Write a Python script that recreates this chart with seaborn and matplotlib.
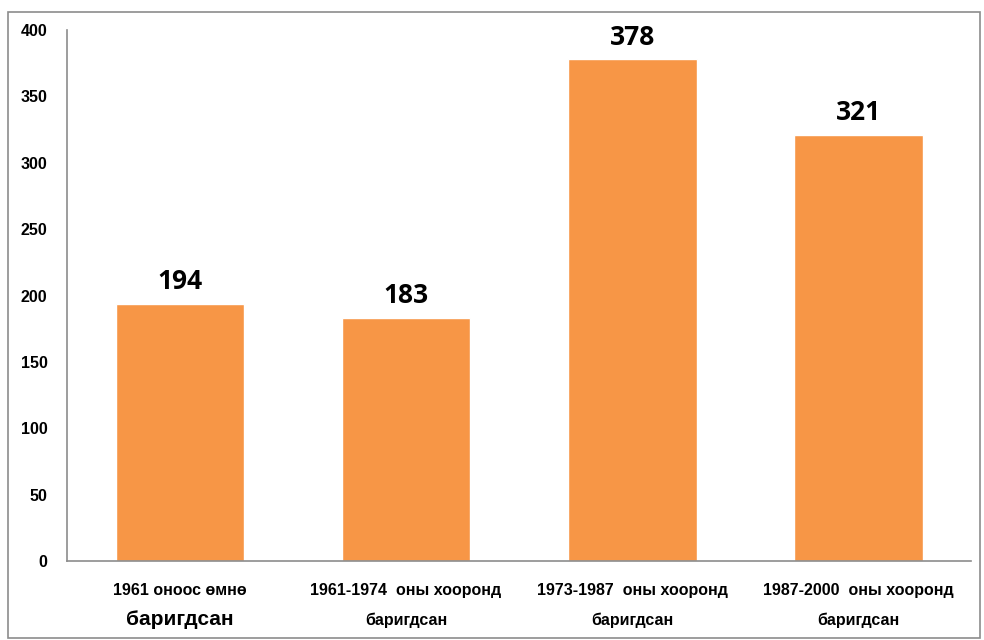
import matplotlib
matplotlib.use("Agg")
import matplotlib.pyplot as plt
import seaborn as sns
import pandas as pd
from matplotlib.patches import Rectangle

categories = ["1961 оноос өмнө баригдсан",
              "1961-1974  оны хооронд баригдсан",
              "1973-1987  оны хооронд баригдсан",
              "1987-2000  оны хооронд баригдсан"]
label_line1 = ["1961 оноос өмнө", "1961-1974  оны хооронд",
               "1973-1987  оны хооронд", "1987-2000  оны хооронд"]
label_line2 = ["баригдсан", "баригдсан", "баригдсан", "баригдсан"]
values = [194, 183, 378, 321]
yticks = [0, 50, 100, 150, 200, 250, 300, 350, 400]

sns.set_theme(style="white")
font = "Liberation Sans"

df = pd.DataFrame({"cat": categories, "val": values})

fig = plt.figure(figsize=(9.84, 6.4), dpi=100)
ax = fig.add_axes([0.068, 0.1234, 0.919, 0.8296])
sns.barplot(data=df, x="cat", y="val", color="#F79646", saturation=1,
            width=0.57, ax=ax)
ax.set_xlim(-0.5, 3.5)
ax.set_ylim(0, 400)
ax.set_yticks(yticks)
ax.set_yticklabels([str(t) for t in yticks], fontfamily=font,
                   fontweight="bold", fontsize=11.5, color="black")
ax.tick_params(axis="y", length=0, pad=14)
ax.tick_params(axis="x", length=0)
ax.set_xticks(range(len(categories)))
ax.set_xticklabels([""] * len(categories))
ax.set_xlabel("")
ax.set_ylabel("")
for s in ["top", "right"]:
    ax.spines[s].set_visible(False)
for s in ["left", "bottom"]:
    ax.spines[s].set_color("#8c8c8c")
    ax.spines[s].set_linewidth(1.2)

trans = ax.get_xaxis_transform()
for i, (l1, l2) in enumerate(zip(label_line1, label_line2)):
    ax.text(i, -0.056, l1, transform=trans, ha="center", va="center",
            fontfamily=font, fontweight="bold", fontsize=11.5, color="black")
    if i == 0:
        ax.text(i, -0.111, l2, transform=trans, ha="center", va="center",
                fontfamily=font, fontweight="bold", fontsize=15, color="black")
    else:
        ax.text(i, -0.111, l2, transform=trans, ha="center", va="center",
                fontfamily=font, fontweight="bold", fontsize=11.5, color="black")

for i, v in enumerate(values):
    ax.annotate(str(v), (i, v), xytext=(0, 16), textcoords="offset points",
                ha="center", va="center", fontfamily="Open Sans",
                fontweight="bold", fontsize=19, color="black")

fig.patches.append(Rectangle((8 / 984, 2 / 640), 972 / 984, 626 / 640,
                             transform=fig.transFigure, fill=False,
                             edgecolor="#8c8c8c", linewidth=1.2))

fig.savefig("out.png", dpi=100)
